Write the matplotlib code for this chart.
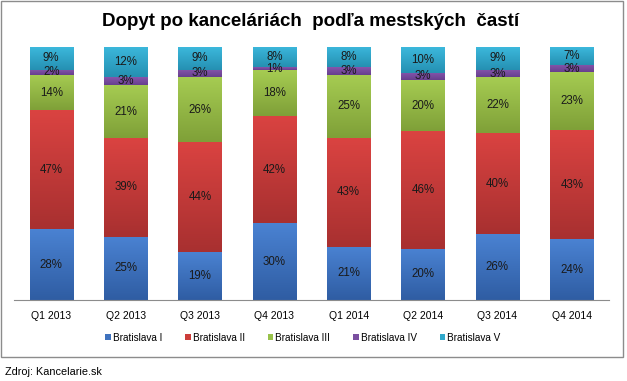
import matplotlib
matplotlib.use("Agg")
import matplotlib.pyplot as plt
import numpy as np
from matplotlib.patches import Rectangle
from matplotlib.colors import to_rgb

plt.rcParams['font.family'] = ['Liberation Sans', 'DejaVu Sans']

categories = ["Q1 2013", "Q2 2013", "Q3 2013", "Q4 2013", "Q1 2014", "Q2 2014", "Q3 2014", "Q4 2014"]
series_names = ["Bratislava I", "Bratislava II", "Bratislava III", "Bratislava IV", "Bratislava V"]
bratislava_1 = [28, 25, 19, 30, 21, 20, 26, 24]
bratislava_2 = [47, 39, 44, 42, 43, 46, 40, 43]
bratislava_3 = [14, 21, 26, 18, 25, 20, 22, 23]
bratislava_4 = [2, 3, 3, 1, 3, 3, 3, 3]
bratislava_5 = [9, 12, 9, 8, 8, 10, 9, 7]
colors = ["#3F72BE", "#CC3D3A", "#98C24A", "#7A4FA0", "#30A9CC"]
top_colors = ["#4A82D2", "#DA4341", "#A6CC52", "#8656AC", "#3CB8DC"]
bottom_colors = ["#2F5DA3", "#A83030", "#7FA038", "#673F8E", "#2590B2"]
title = "Dopyt po kanceláriách  podľa mestských  častí"
source = "Zdroj: Kancelarie.sk"

data = np.array([bratislava_1, bratislava_2, bratislava_3, bratislava_4, bratislava_5], dtype=float)
totals = data.sum(axis=0)
frac = data / totals

fig = plt.figure(figsize=(6.27, 3.81), dpi=100)
fig.patches.append(Rectangle((1/627, 1 - 357/381), 622/627, 356/381, transform=fig.transFigure,
                             fill=False, edgecolor="#8c8c8c", linewidth=1.0))

ax = fig.add_axes([14/627, 81/381, 595/627, 253/381])
x = np.arange(len(categories))
width = 0.58
bottom = np.zeros(len(categories))
handles = []
for i, name in enumerate(series_names):
    b = ax.bar(x, frac[i], bottom=bottom, width=width, color=colors[i], label=name, linewidth=0)
    handles.append(b)
    c_top = np.array(to_rgb(top_colors[i]))
    c_bot = np.array(to_rgb(bottom_colors[i]))
    t = np.linspace(0, 1, 64)[:, None]
    grad = (c_bot[None, :] * (1 - t) + c_top[None, :] * t)[:, None, :]
    for j in range(len(categories)):
        ax.imshow(grad, extent=(x[j] - width / 2, x[j] + width / 2, bottom[j], bottom[j] + frac[i][j]),
                  origin="lower", aspect="auto", interpolation="bilinear", zorder=2)
        ax.text(x[j], bottom[j] + frac[i][j] / 2, f"{int(data[i][j])}%", ha="center", va="center",
                fontsize=8.3, color="#1a1a1a", zorder=3)
    bottom += frac[i]

ax.set_xlim(-0.5, len(categories) - 0.5)
ax.set_ylim(0, 1)
ax.set_xticks(x)
ax.set_xticklabels(categories, fontsize=7.5)
ax.tick_params(axis="x", length=0, pad=8)
ax.set_yticks([])
for s in ["left", "right", "top"]:
    ax.spines[s].set_visible(False)
ax.spines["bottom"].set_color("#8c8c8c")
ax.spines["bottom"].set_linewidth(0.8)
ax.spines["bottom"].set_zorder(4)

fig.text(311/627, 1 - 22/381, title, ha="center", va="center", fontsize=13.5, fontweight="bold")

leg = fig.legend(handles=handles, labels=series_names, loc="center", bbox_to_anchor=(303/627, 1 - 338/381),
                 ncol=5, frameon=False, fontsize=7.2, handlelength=0.55, handleheight=0.55,
                 handletextpad=0.2, columnspacing=2.3)

fig.text(5/627, 1 - 372/381, source, ha="left", va="center", fontsize=7.8)

fig.savefig("out.png", dpi=100)
